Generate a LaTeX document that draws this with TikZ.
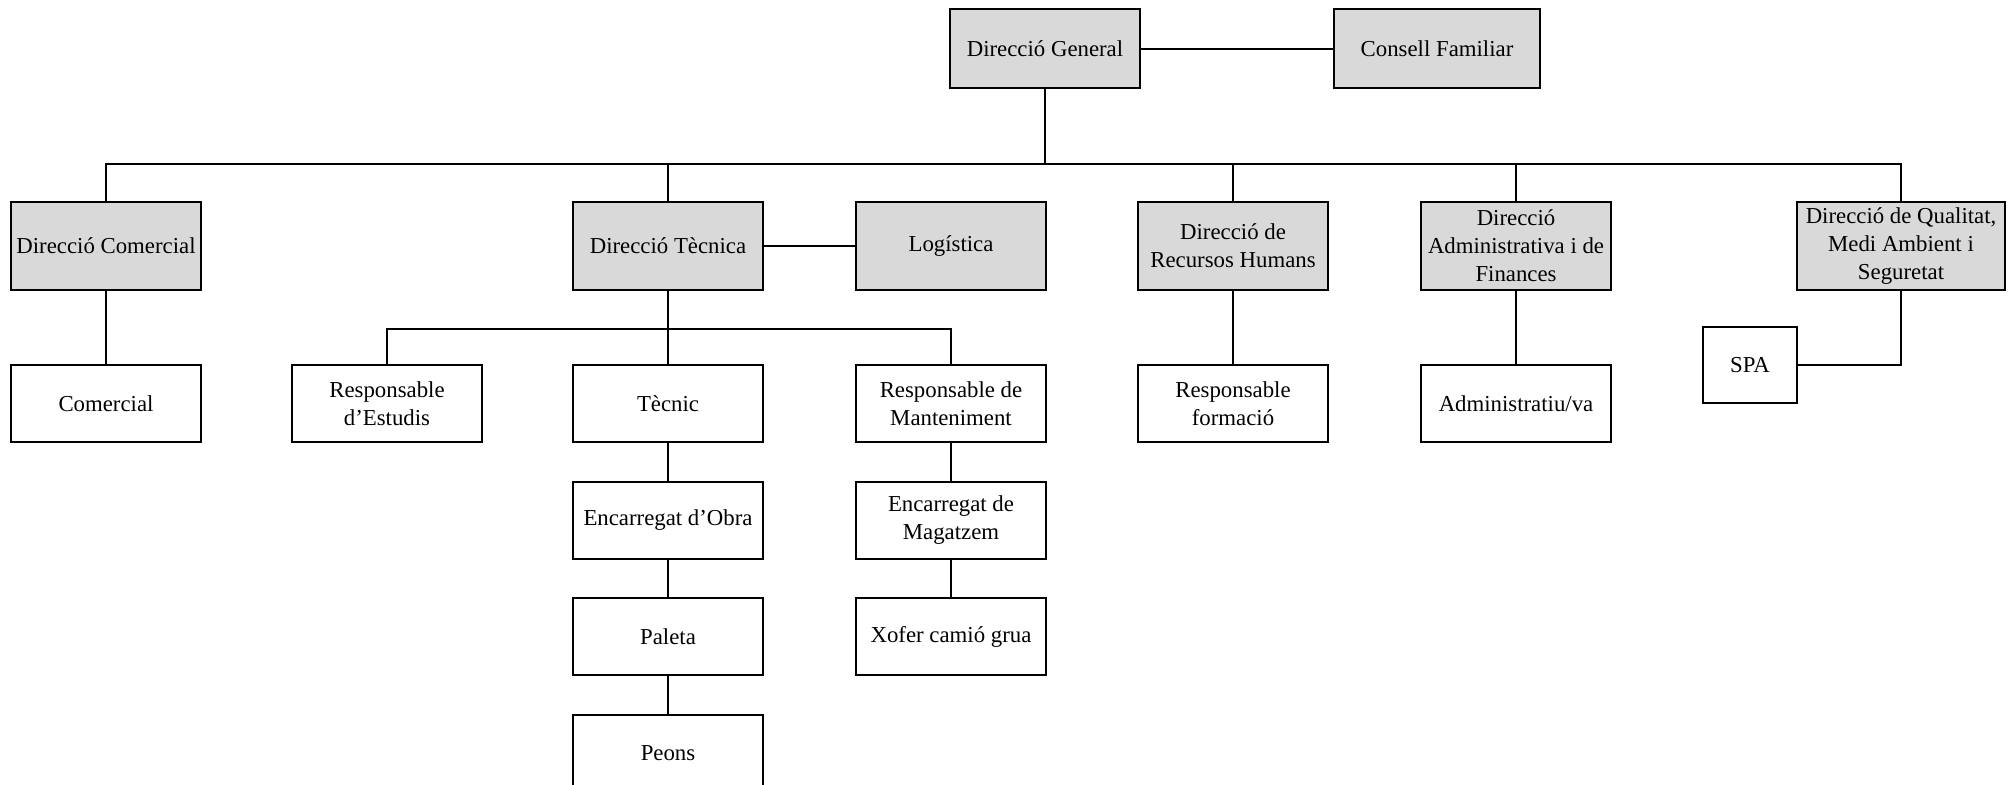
\documentclass[tikz,border=0pt]{standalone}
\usepackage{fontspec}
\setmainfont{Liberation Serif}
\usetikzlibrary{positioning}

\begin{document}
\begin{tikzpicture}[x=0.5pt,y=-0.5pt,
       line width=1pt,
       node distance=18.75pt,
       font=\fontsize{11.4}{14}\selectfont]

    \tikzstyle{box}=[draw,align=center,inner sep=1pt,minimum width=95pt,minimum height=38.5pt]
    \tikzstyle{head}=[box,fill=black!15,minimum height=44pt]
    \tikzstyle{top}=[head,minimum height=39.5pt]

    \useasboundingbox (0,0) rectangle (2011,784);

    \node[top] (dg) at (1045,48.5) {Direcció General};
    \node[top,minimum width=103pt] (cf) at (1437,48.5) {Consell Familiar};

    \node[head] (dc) at (106,246) {Direcció Comercial};
    \node[head] (dt) at (668,246) {Direcció Tècnica};
    \node[head] (log) at (951,246) {Logística};
    \node[head] (rh) at (1233,246) {Direcció de\\Recursos Humans};
    \node[head] (da) at (1516,246) {Direcció\\Administrativa i de\\Finances};
    \node[head,minimum width=104pt] (dq) at (1901,246) {Direcció de Qualitat,\\Medi Ambient i\\Seguretat};

    \node[box] (com) at (106,403.5) {Comercial};
    \node[box] (rde) at (387,403.5) {Responsable\\d'Estudis};
    \node[box] (tec) at (668,403.5) {Tècnic};
    \node[box] (rdm) at (951,403.5) {Responsable de\\Manteniment};
    \node[box] (rf) at (1233,403.5) {Responsable\\formació};
    \node[box] (adm) at (1516,403.5) {Administratiu/va};
    \node[box,minimum width=47pt,minimum height=38pt] (spa) at (1750,365) {SPA};

    \node[box,below=of tec] (eo) {Encarregat d'Obra};
    \node[box,below=of eo] (pal) {Paleta};
    \node[box,below=of pal] (peo) {Peons};
    \node[box,below=of rdm] (em) {Encarregat de\\Magatzem};
    \node[box,below=of em] (xof) {Xofer camió grua};

    \coordinate (bus) at (1045,164);
    \coordinate[below=19pt of dt.south] (split);

    \draw (dg) -- (cf);
    \draw (dg.south) -- (bus);
    \draw (dc.north) |- (bus) -| (dq.north);
    \foreach \n in {dt,rh,da}
        \draw (\n.north) -- (\n.north|-bus);
    \draw (dt) -- (log);

    \draw (dc) -- (com);
    \draw (dt) -- (tec);
    \draw (rde.north) |- (split) -| (rdm.north);
    \draw (rh) -- (rf);
    \draw (da) -- (adm);
    \draw (dq.south) |- (spa.east);

    \draw (tec) -- (eo);
    \draw (eo) -- (pal);
    \draw (pal) -- (peo);
    \draw (rdm) -- (em);
    \draw (em) -- (xof);

\end{tikzpicture}
\end{document}
